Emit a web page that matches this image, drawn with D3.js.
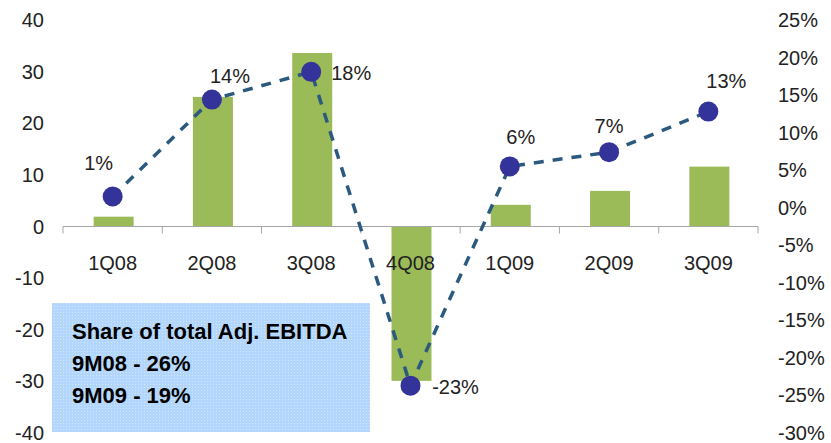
<!DOCTYPE html>
<html lang="en">
<head>
<meta charset="UTF-8">
<title>Adj. EBITDA by quarter</title>
<script src="https://cdn.jsdelivr.net/npm/d3@7"></script>
<style>
  body { margin: 0; background: #fff; }
  svg text { font-family: "Liberation Sans Narrow", "Arial Narrow", "Liberation Sans", sans-serif; fill: #222; }
</style>
</head>
<body>
<script>
// values
const quarters = ['1Q08', '2Q08', '3Q08', '4Q08', '1Q09', '2Q09', '3Q09']
const ebitda = [1.9, 25.1, 33.6, -29.9, 4.2, 6.9, 11.6]
const share = [1.5, 14.4, 18.1, -23.7, 5.5, 7.4, 12.8]
const shareLabels = ['1%', '14%', '18%', '-23%', '6%', '7%', '13%']
const leftTicks = [40, 30, 20, 10, 0, -10, -20, -30, -40]
const rightTicks = [25, 20, 15, 10, 5, 0, -5, -10, -15, -20, -25, -30]
const boxLines = ['Share of total Adj. EBITDA', '9M08 - 26%', '9M09 - 19%']

const width = 831, height = 443

const svg = d3.select('body').append('svg')
  .attr('width', width)
  .attr('height', height)

const defs = svg.append('defs')
const pat = defs.append('pattern')
  .attr('id', 'dots')
  .attr('width', 3).attr('height', 3)
  .attr('patternUnits', 'userSpaceOnUse')
pat.append('rect').attr('width', 3).attr('height', 3).attr('fill', '#b3d6fc')
pat.append('rect').attr('width', 1).attr('height', 1).attr('fill', '#d2e7ff')

const x = d3.scaleBand()
  .domain(quarters)
  .range([63, 758])

const yL = d3.scaleLinear().domain([-40, 40]).range([433, 20])
const yR = d3.scaleLinear().domain([-30, 25]).range([433, 20])

// left axis labels
svg.append('g')
  .selectAll('text')
  .data(leftTicks)
  .enter()
  .append('text')
  .attr('x', 44)
  .attr('y', d => yL(d))
  .attr('dy', '0.35em')
  .attr('text-anchor', 'end')
  .attr('font-size', 20)
  .text(d => d)

// right axis labels
svg.append('g')
  .selectAll('text')
  .data(rightTicks)
  .enter()
  .append('text')
  .attr('x', 778)
  .attr('y', d => yR(d))
  .attr('dy', '0.35em')
  .attr('font-size', 20)
  .text(d => d + '%')

// text box
const box = svg.append('g')
box.append('rect')
  .attr('x', 52).attr('y', 303)
  .attr('width', 318).attr('height', 129)
  .attr('fill', 'url(#dots)')
box.selectAll('text')
  .data(boxLines)
  .enter()
  .append('text')
  .attr('x', 72)
  .attr('y', (d, i) => 339 + i * 32)
  .attr('font-size', 22)
  .attr('font-weight', 'bold')
  .style('fill', '#000')
  .text(d => d)

// bars
const barW = 40
svg.append('g')
  .selectAll('rect')
  .data(ebitda)
  .enter()
  .append('rect')
  .attr('x', (d, i) => x(quarters[i]) + x.bandwidth() / 2 - barW / 2 + 1)
  .attr('y', d => Math.min(yL(d), yL(0)))
  .attr('width', barW)
  .attr('height', d => Math.abs(yL(d) - yL(0)))
  .attr('fill', '#9bbb59')

// category axis
const axis = svg.append('g')
axis.append('line')
  .attr('x1', x.range()[0]).attr('x2', x.range()[1])
  .attr('y1', yL(0)).attr('y2', yL(0))
  .attr('stroke', '#a6a6a6')
axis.selectAll('.tick')
  .data(quarters.concat(['end']))
  .enter()
  .append('line')
  .attr('x1', (d, i) => x.range()[0] + i * x.step())
  .attr('x2', (d, i) => x.range()[0] + i * x.step())
  .attr('y1', yL(0)).attr('y2', yL(0) + 7)
  .attr('stroke', '#a6a6a6')
axis.selectAll('text')
  .data(quarters)
  .enter()
  .append('text')
  .attr('x', d => x(d) + x.bandwidth() / 2)
  .attr('y', 270)
  .attr('text-anchor', 'middle')
  .attr('font-size', 20)
  .text(d => d)

// share line
const cx = (d, i) => x(quarters[i]) + x.bandwidth() / 2
const line = d3.line()
  .x(cx)
  .y(d => yR(d))
svg.append('path')
  .datum(share)
  .attr('d', line)
  .attr('fill', 'none')
  .attr('stroke', '#2c5a7e')
  .attr('stroke-width', 3.5)
  .attr('stroke-dasharray', '10,9')

svg.append('g')
  .selectAll('circle')
  .data(share)
  .enter()
  .append('circle')
  .attr('cx', cx)
  .attr('cy', d => yR(d))
  .attr('r', 10)
  .attr('fill', '#333399')

// point labels
const labelOff = [[-14, -33], [18, -24], [40, 1], [45, 1], [11, -29], [0, -26], [18, -31]]
svg.append('g')
  .selectAll('text')
  .data(share)
  .enter()
  .append('text')
  .attr('x', (d, i) => cx(d, i) + labelOff[i][0])
  .attr('y', (d, i) => yR(d) + labelOff[i][1])
  .attr('dy', '0.35em')
  .attr('text-anchor', 'middle')
  .attr('font-size', 20)
  .text((d, i) => shareLabels[i])
</script>
</body>
</html>
